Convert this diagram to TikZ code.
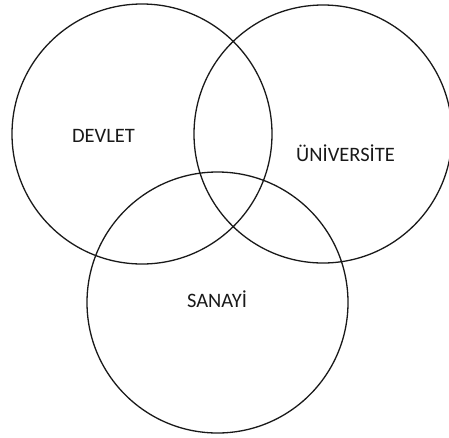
\documentclass[tikz,border=0pt]{standalone}
\usepackage{fontspec}
\setmainfont{Carlito}
\begin{document}
\begin{tikzpicture}[x=1pt,y=-1pt,
  ring/.style={draw=black!90,line width=1.3pt,circle,minimum size=#1,inner sep=0pt},
  lbl/.style={font=\fontsize{20.5}{24}\selectfont,text=black!90,anchor=base,inner sep=0pt}]
\useasboundingbox (0,0) rectangle (449,437);
\node[ring=260pt] (devletc) at (142,134) {};
\node[ring=258pt] (univc) at (323,134) {};
\node[ring=261pt] (sanayic) at (217.5,302.5) {};
\node[lbl] (devlet) at (103.5,142.3) {DEVLET};
\node[lbl] (univ) at (345.5,161.7) {ÜNİVERSİTE};
\node[lbl] (sanayi) at (217,307) {SANAYİ};
\end{tikzpicture}
\end{document}
